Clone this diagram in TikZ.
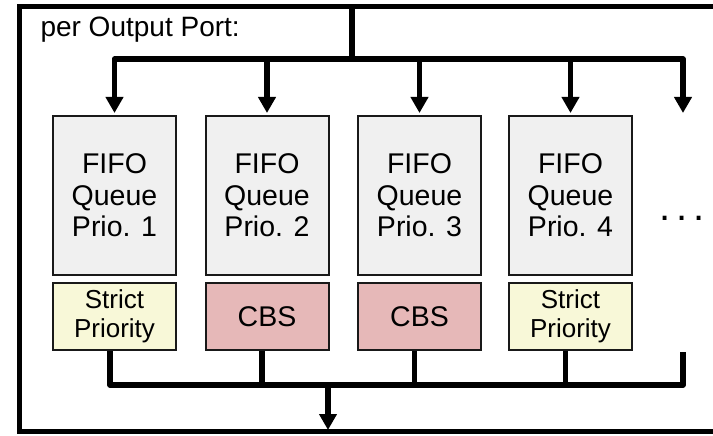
\documentclass[tikz,border=0pt]{standalone}
\usepackage{fontspec}
\setmainfont{Liberation Sans}
\usetikzlibrary{arrows.meta}
\definecolor{fifofill}{HTML}{F0F0F0}
\definecolor{spfill}{HTML}{F8F8D8}
\definecolor{cbsfill}{HTML}{E6B8B8}
\begin{document}
\begin{tikzpicture}[x=1pt,y=-1pt,
  >={Triangle[width=17pt,length=16pt]},
  fifobox/.style={draw=black!90, line width=2pt, fill=fifofill, minimum width=123pt, minimum height=159pt, inner sep=0pt, align=center, font=\fontsize{28.5}{31.5}\selectfont},
  shaper/.style={draw=black!90, line width=2pt, minimum width=123pt, minimum height=67pt, inner sep=0pt, align=center, font=\fontsize{26}{29}\selectfont},
  spbox/.style={shaper, fill=spfill},
  cbsbox/.style={shaper, fill=cbsfill, font=\fontsize{28.5}{31.5}\selectfont},
  bus/.style={line width=5.5pt, line join=round},
  framebox/.style={draw, line width=5pt, minimum width=720.5pt, minimum height=425pt, inner sep=0pt}]
\useasboundingbox (0,0) rectangle (713,436);
\clip (0,0) rectangle (713,436);
\fill[white] (0,0) rectangle (713,436);

\node[framebox] (port) at (379.75,219) {};
\node[anchor=base west, font=\fontsize{28}{30}\selectfont] (lbl) at (37,37) {per Output Port:};

\node[fifobox] (f1) at (114.5,195.5) {FIFO\\Queue\\Prio. 1};
\node[fifobox] (f2) at (267,195.5) {FIFO\\Queue\\Prio. 2};
\node[fifobox] (f3) at (419.5,195.5) {FIFO\\Queue\\Prio. 3};
\node[fifobox] (f4) at (570.5,195.5) {FIFO\\Queue\\Prio. 4};

\node[spbox] (s1) at (114.5,316.5) {Strict\\Priority};
\node[cbsbox] (s2) at (267,316.5) {CBS};
\node[cbsbox] (s3) at (419.5,316.5) {CBS};
\node[spbox] (s4) at (570.5,316.5) {Strict\\Priority};

\node[font=\fontsize{40}{40}\selectfont, inner sep=0pt] (dots) at (682,218) {.\hspace{5.6pt}.\hspace{5.6pt}.};

% top distribution
\coordinate (in) at (352,6.5);
\coordinate (tb) at (352,59);
\coordinate (e5) at (683,113);
\draw[bus] (in) -- (tb);
\draw[bus,<->] ([yshift=2pt]f1.north) -- (f1.north |- tb) -- (e5 |- tb) -- (e5);
\draw[bus,->] (f2.north |- tb) -- ([yshift=2pt]f2.north);
\draw[bus,->] (f3.north |- tb) -- ([yshift=2pt]f3.north);
\draw[bus,->] (f4.north |- tb) -- ([yshift=2pt]f4.north);

% bottom collection
\coordinate (rb) at (683,385);
\coordinate (rt) at (683,352);
\draw[bus] ([xshift=-4.5pt]s1.south) |- (rb) -- (rt);
\draw[bus] ([xshift=-5pt]s2.south) -- ([xshift=-5pt]s2.south |- rb);
\draw[bus] ([xshift=-5pt]s3.south) -- ([xshift=-5pt]s3.south |- rb);
\draw[bus] ([xshift=-5pt]s4.south) -- ([xshift=-5pt]s4.south |- rb);
\coordinate (ob) at (328,385);
\coordinate (exit) at (328,430);
\draw[bus,->] (ob) -- (exit);
\end{tikzpicture}
\end{document}
